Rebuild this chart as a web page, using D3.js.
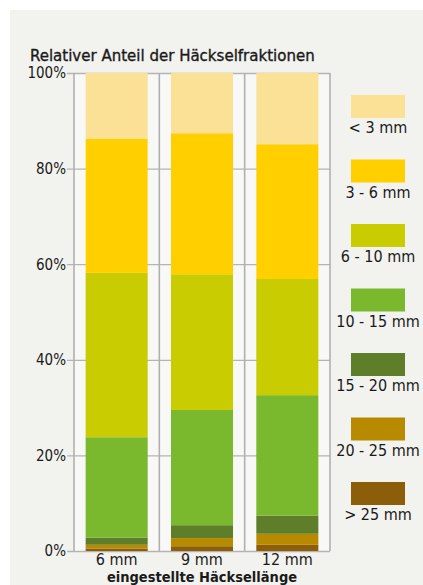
<!DOCTYPE html>
<html>
<head>
<meta charset="utf-8">
<script src="https://cdn.jsdelivr.net/npm/d3@7"></script>
<style>
  body { margin: 0; background: #fff; }
  text { font-family: "DejaVu Sans Condensed", "DejaVu Sans", sans-serif; fill: #1a1a1a; }
</style>
</head>
<body>
<div id="chart"></div>
<script>
var lengths = ["6 mm", "9 mm", "12 mm"];
var fractions = ["> 25 mm", "20 - 25 mm", "15 - 20 mm", "10 - 15 mm", "6 - 10 mm", "3 - 6 mm", "< 3 mm"];
var colors = ["#8c5e0a", "#b88a00", "#5e7e2a", "#7ab82d", "#c8cc00", "#ffcf00", "#fae196"];
// share in % per fraction, order of lengths
var gt25 = [0.5, 1.0, 1.3];
var f20to25 = [0.8, 1.7, 2.3];
var f15to20 = [1.5, 2.7, 3.8];
var f10to15 = [21.0, 24.1, 25.2];
var f6to10 = [34.4, 28.4, 24.3];
var f3to6 = [28.0, 29.5, 28.2];
var lt3 = [13.8, 12.6, 14.9];
var yTicks = [0, 20, 40, 60, 80, 100];

var series = [gt25, f20to25, f15to20, f10to15, f6to10, f3to6, lt3];
var table = lengths.map(function(l, i) {
    var row = {length: l};
    fractions.forEach(function(f, j) { row[f] = series[j][i]; });
    return row;
});

var width = 423, height = 585;
var margin = {top: 73, left: 74, right: 93, bottom: 34};

var svg = d3.select("#chart").append("svg")
    .attr("width", width)
    .attr("height", height);

// panel
svg.append("rect")
    .attr("x", 10).attr("y", 10)
    .attr("width", width - 10).attr("height", height - 10)
    .attr("fill", "#f2f2ee");

var x = d3.scaleBand()
    .domain(lengths)
    .range([margin.left, width - margin.right])
    .paddingInner(0.273)
    .paddingOuter(0.1365);

var y = d3.scaleLinear()
    .domain([0, 100])
    .range([height - margin.bottom, margin.top]);

var step = x.step();

// column backgrounds
svg.append("g").selectAll("rect")
    .data(lengths)
    .enter().append("rect")
    .attr("x", function(d) { return x(d) - x.paddingInner() * step / 2; })
    .attr("y", y(100))
    .attr("width", step)
    .attr("height", y(0) - y(100))
    .attr("fill", "#f8f8f7");

// horizontal grid + ticks
svg.append("g")
    .attr("transform", "translate(" + margin.left + ",0)")
    .call(d3.axisLeft(y)
        .tickValues(yTicks)
        .tickSize(-(width - margin.right - margin.left))
        .tickPadding(8)
        .tickFormat(function(d) { return d + "%"; }))
    .call(function(g) {
        g.select(".domain").remove();
        g.selectAll(".tick line")
            .attr("x1", -7)
            .attr("stroke", "#b4b4b4")
            .attr("stroke-width", 1.3);
        g.selectAll(".tick text")
            .attr("x", -8)
            .attr("font-size", 15)
            .attr("font-family", null);
    });

// column separators
svg.append("g").selectAll("line")
    .data(d3.range(lengths.length + 1))
    .enter().append("line")
    .attr("x1", function(i) { return margin.left + i * step; })
    .attr("x2", function(i) { return margin.left + i * step; })
    .attr("y1", y(100))
    .attr("y2", y(0))
    .attr("stroke", "#b0b0b0")
    .attr("stroke-width", 1.6);

var stack = d3.stack().keys(fractions)(table);

svg.append("g").selectAll("g")
    .data(stack)
    .enter().append("g")
    .attr("fill", function(d, i) { return colors[i]; })
    .selectAll("rect")
    .data(function(d) { return d; })
    .enter().append("rect")
    .attr("x", function(d) { return x(d.data.length); })
    .attr("y", function(d) { return y(d[1]); })
    .attr("width", x.bandwidth())
    .attr("height", function(d) { return y(d[0]) - y(d[1]); });

// x labels
svg.append("g")
    .attr("transform", "translate(0," + y(0) + ")")
    .call(d3.axisBottom(x).tickSize(0).tickPadding(3))
    .call(function(g) {
        g.select(".domain").remove();
        g.selectAll("text").attr("font-size", 16).attr("font-family", null);
    });

svg.append("text")
    .attr("x", (margin.left + width - margin.right) / 2)
    .attr("y", 582)
    .attr("text-anchor", "middle")
    .attr("font-size", 14.5)
    .attr("font-weight", "bold")
    .text("eingestellte Häcksellänge");

svg.append("text")
    .attr("x", 30)
    .attr("y", 61)
    .attr("font-size", 16.7)
    .attr("stroke", "#1a1a1a")
    .attr("stroke-width", 0.35)
    .text("Relativer Anteil der Häckselfraktionen");

// legend, top to bottom
var legend = svg.append("g").selectAll("g")
    .data(fractions.slice().reverse())
    .enter().append("g")
    .attr("transform", function(d, i) { return "translate(351," + (95 + i * 64.5) + ")"; });

legend.append("rect")
    .attr("width", 54)
    .attr("height", 23)
    .attr("fill", function(d) { return colors[fractions.indexOf(d)]; });

legend.append("text")
    .attr("x", 27)
    .attr("y", 38)
    .attr("text-anchor", "middle")
    .attr("font-size", 16)
    .text(function(d) { return d; });
</script>
</body>
</html>
